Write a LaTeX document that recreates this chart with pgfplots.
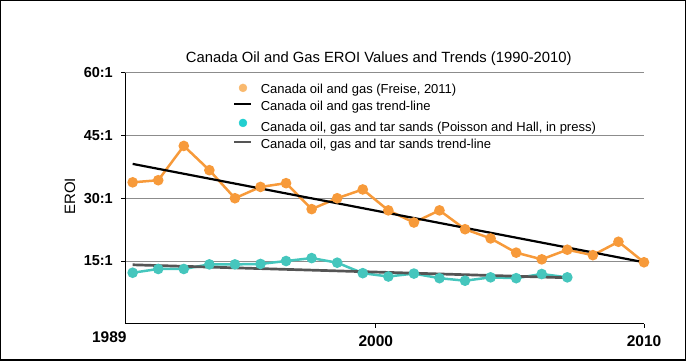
\documentclass[border=0pt]{standalone}
\usepackage{fontspec}
\setmainfont{Liberation Sans}
\usepackage{pgfplots}
\pgfplotsset{compat=1.18}
\definecolor{oc}{HTML}{F79A3A}
\definecolor{ocl}{HTML}{F9B96E}
\definecolor{tc}{HTML}{45C6BD}
\definecolor{tcl}{HTML}{22CFD0}
\definecolor{gt}{HTML}{555555}
\begin{document}
\begin{tikzpicture}
\begin{axis}[
  scale only axis, width=519.3pt, height=251.3pt,
  xmin=1989.7, xmax=2010, ymin=0, ymax=60,
  axis x line*=bottom, axis y line*=left,
  axis line style={black, line width=0.9pt},
  ytick={15,30,45,60}, yticklabels={15:1,30:1,45:1,60:1},
  xtick={1999.51,2010}, xticklabels={2000,2010},
  extra x ticks={1989.7}, extra x tick labels={\makebox[0pt][r]{1989\kern-1.5pt}},
  extra x tick style={major tick length=0pt, xmajorgrids=false},
  ymajorgrids, grid style={black!45, line width=0.8pt},
  tick align=outside, major tick length=4pt,
  tick style={black, line width=0.8pt},
  y tick label style={font=\bfseries\fontsize{14.5}{16}\selectfont, anchor=east, inner sep=0pt, xshift=-8pt},
  x tick label style={font=\bfseries\fontsize{15.5}{17}\selectfont, anchor=base, inner sep=0pt, yshift=-18.9pt},
  ylabel={EROI},
  ylabel style={font=\fontsize{15}{17}\selectfont, at={(rel axis cs:-0.106,0.507)}, anchor=center},
  clip=false,
  legend cell align=left,
  legend style={at={(rel axis cs:0.208,0.967)}, anchor=north west, draw=none, fill=none,
    inner sep=0pt, row sep=1.7pt, column sep=8pt,
    nodes={inner sep=0pt, font=\fontsize{13}{15}\selectfont}},
]
\addlegendimage{legend image code/.code={\fill[ocl] (8.5pt,0pt) circle (4pt);}}
\addlegendentry{\rule[-3pt]{0pt}{15pt}Canada oil and gas (Freise, 2011)}
\addlegendimage{legend image code/.code={\draw[black,line width=2.2pt] (0pt,0pt) -- (17pt,0pt);}}
\addlegendentry{\rule[-3pt]{0pt}{16.7pt}Canada oil and gas trend-line}
\addlegendimage{legend image code/.code={\fill[tcl] (8.5pt,0pt) circle (4pt);}}
\addlegendentry{\rule[-3pt]{0pt}{20.9pt}Canada oil, gas and tar sands (Poisson and Hall, in press)}
\addlegendimage{legend image code/.code={\draw[gt,line width=2.7pt] (0pt,0pt) -- (17pt,0pt);}}
\addlegendentry{\rule[-3pt]{0pt}{16.9pt}Canada oil, gas and tar sands trend-line}

\addplot[oc, line width=2.5pt, mark=*, mark size=4pt, mark options={fill=oc, draw=oc}, forget plot] coordinates {
(1990,33.8) (1991,34.3) (1992,42.5) (1993,36.7) (1994,30.0) (1995,32.7) (1996,33.6)
(1997,27.4) (1998,30.0) (1999,32.1) (2000,27.1) (2001,24.2) (2002,27.1) (2003,22.6)
(2004,20.4) (2005,17.0) (2006,15.4) (2007,17.7) (2008,16.4) (2009,19.6) (2010,14.7)};
\addplot[tc, line width=2.5pt, mark=*, mark size=4pt, mark options={fill=tc, draw=tc}, forget plot] coordinates {
(1990,12.2) (1991,13.1) (1992,13.1) (1993,14.2) (1994,14.2) (1995,14.3) (1996,15.0)
(1997,15.7) (1998,14.6) (1999,12.1) (2000,11.3) (2001,12.0) (2002,10.9) (2003,10.3)
(2004,11.1) (2005,10.9) (2006,11.9) (2007,11.1)};
\addplot[black, line width=2.2pt, forget plot] coordinates {(1990,38.2) (2010,14.7)};
\addplot[gt, line width=2.7pt, forget plot] coordinates {(1990,14.1) (2007,11.0)};

\node[font=\fontsize{14.8}{17}\selectfont, anchor=base] at (rel axis cs:0.489,1.0414)
  {Canada Oil and Gas EROI Values and Trends (1990-2010)};
\draw[black, line width=1.5pt] (rel axis cs:-0.2394,-0.14425) rectangle (rel axis cs:1.07948,1.28631);
\end{axis}
\end{tikzpicture}
\end{document}
